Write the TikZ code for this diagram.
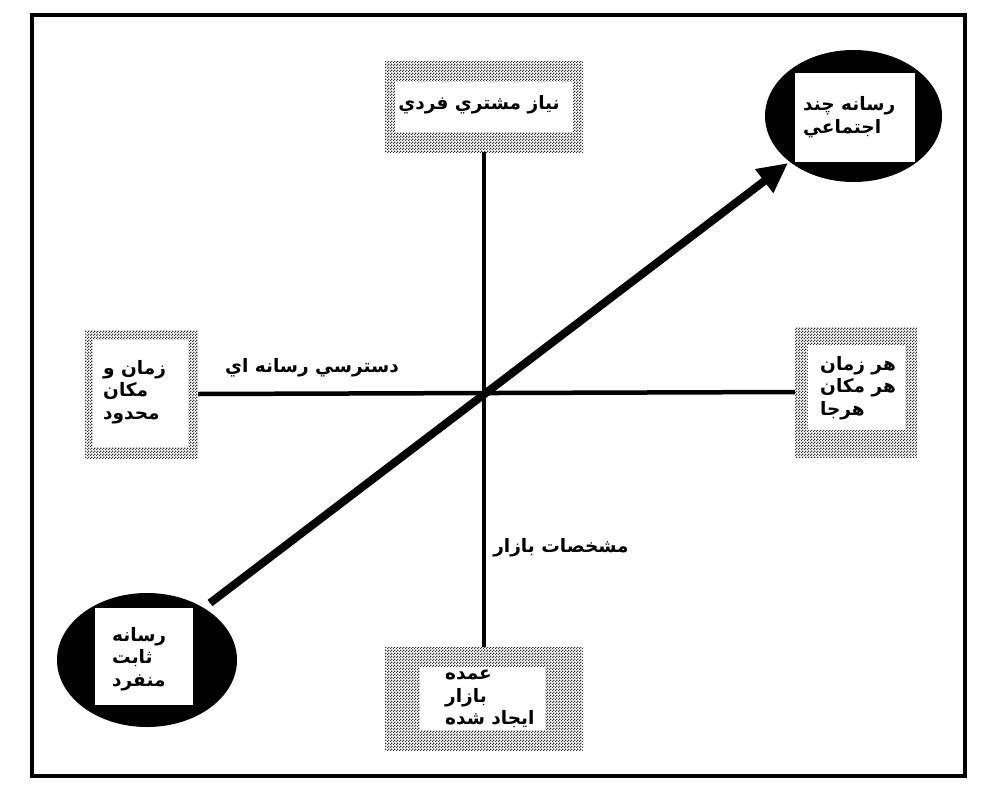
\documentclass[tikz,border=0pt]{standalone}
\usepackage{fontspec}
\usetikzlibrary{arrows.meta,shapes.geometric,patterns}
\TeXXeTstate=1
\newfontfamily\arabicfont[Script=Arabic]{DejaVu Sans}
\pgfdeclarepatternformonly{stip}{\pgfpointorigin}{\pgfpoint{3pt}{3pt}}{\pgfpoint{3pt}{3pt}}{%
  \pgfpathrectangle{\pgfpointorigin}{\pgfpoint{1.5pt}{1.5pt}}%
  \pgfpathrectangle{\pgfpoint{1.5pt}{1.5pt}}{\pgfpoint{1.5pt}{1.5pt}}%
  \pgfusepath{fill}}
\tikzset{
  stipbox/.style={rectangle, pattern=stip, pattern color=black!80, draw=none, inner sep=0pt},
  whitebox/.style={rectangle, fill=white, draw=none, inner sep=0pt},
  blackoval/.style={ellipse, fill=black, draw=none, inner sep=0pt},
  axis/.style={line width=4.5pt},
  txt/.style={font=\arabicfont\bfseries\fontsize{18.5}{22.5}\selectfont, inner sep=0pt, align=left},
  bigarrow/.style={line width=8pt, -{Triangle[length=30pt,width=28pt]}}
}
\begin{document}
\begin{tikzpicture}[x=1pt,y=-1pt]
\useasboundingbox (0,0) rectangle (981,789);
\fill[white] (0,0) rectangle (981,789);
% frame
\node[draw, line width=4.5pt, minimum width=933pt, minimum height=761pt, inner sep=0pt] (frame) at (498.5,395.5) {};
% stippled boxes
\node[stipbox, minimum width=198pt, minimum height=90pt] (top) at (484,107) {};
\node[whitebox, minimum width=178pt, minimum height=50pt] (topw) at (484,107) {};
\node[stipbox, minimum width=113pt, minimum height=128pt] (left) at (141.5,394) {};
\node[whitebox, minimum width=95pt, minimum height=107pt] (leftw) at (140.5,393.5) {};
\node[stipbox, minimum width=122pt, minimum height=130pt] (right) at (856,392) {};
\node[whitebox, minimum width=97pt, minimum height=85pt] (rightw) at (856.5,387.5) {};
\node[stipbox, minimum width=198pt, minimum height=103pt] (bot) at (484,698.5) {};
\node[whitebox, minimum width=125pt, minimum height=63pt] (botw) at (482.5,698.5) {};
% ovals
\node[blackoval, minimum width=180pt, minimum height=134pt] (ebl) at (147,660) {};
\node[whitebox, minimum width=98pt, minimum height=97pt] (eblw) at (144,656.5) {};
\node[blackoval, minimum width=177pt, minimum height=132pt] (etr) at (853.5,116) {};
\node[whitebox, minimum width=120pt, minimum height=89pt] (etrw) at (855,117.5) {};
% axes
\draw[axis] (top.south) -- (bot.north);
\draw[axis] (left.east) -- (right.west);
% arrow
\coordinate (as) at (210,603);
\coordinate (ae) at (788,163);
\draw[bigarrow] (as) -- (ae);
% texts
\node[txt] (ttop) at (479,105) {\beginR نياز مشتري فردي\endR};
\node[txt, anchor=west] (ttr) at (803,117) {\beginR رسانه چند\endR\\\beginR اجتماعي\endR};
\node[txt, anchor=west] (tleft) at (103,392) {\beginR زمان و\endR\\\beginR مکان\endR\\\beginR محدود\endR};
\node[txt, anchor=west] (tright) at (820,388) {\beginR هر زمان\endR\\\beginR هر مکان\endR\\\beginR هرجا\endR};
\node[txt, anchor=west] (tbot) at (445,699) {\beginR عمده\endR\\\beginR بازار\endR\\\beginR ايجاد شده\endR};
\node[txt, anchor=west] (tbl) at (112,659) {\beginR رسانه\endR\\\beginR ثابت\endR\\\beginR منفرد\endR};
\node[txt] (lh) at (312,368) {\beginR دسترسي رسانه اي\endR};
\node[txt] (lv) at (561,548) {\beginR مشخصات بازار\endR};
\end{tikzpicture}
\end{document}
